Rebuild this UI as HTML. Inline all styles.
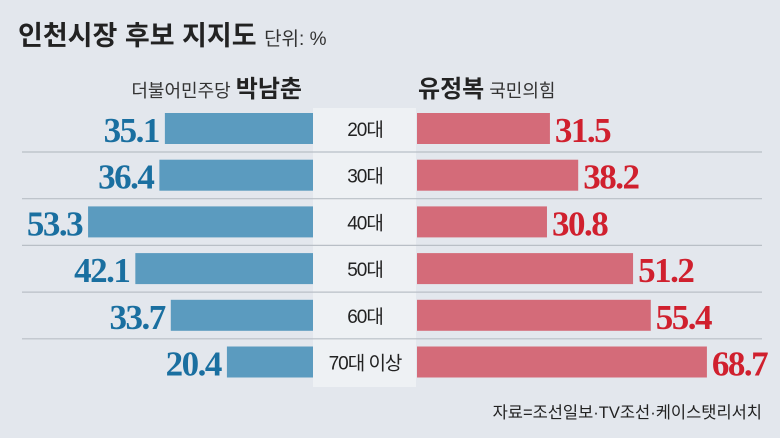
<!DOCTYPE html>
<html><head><meta charset="utf-8"><style>
body{margin:0;background:#e3e7ed;}
svg{display:block;font-family:"Liberation Sans","Noto Sans CJK KR",sans-serif;}
</style></head><body>
<svg id="c" width="780" height="438">
<rect x="0" y="0" width="780" height="438" fill="#e3e7ed"/>
<text x="18" y="45" font-size="27" font-weight="bold" fill="#222">인천시장 후보 지지도 <tspan font-size="19" font-weight="normal" fill="#333">단위: %</tspan></text>
<rect x="313" y="108" width="103" height="279" fill="#eef1f4"/>
<text x="302" y="97" text-anchor="end" font-size="18" fill="#333">더불어민주당 <tspan font-size="24" font-weight="bold" fill="#222">박남춘</tspan></text>
<text x="418" y="97" font-size="18" fill="#333"><tspan font-size="24" font-weight="bold" fill="#222">유정복</tspan> 국민의힘</text>
<g id="rows"></g>
<text x="762" y="418" text-anchor="end" font-size="16.5" fill="#222">자료=조선일보·TV조선·케이스탯리서치</text>
</svg>
<script>
const categories=["20대","30대","40대","50대","60대","70대 이상"];
const parkValues=[35.1,36.4,53.3,42.1,33.7,20.4];
const yooValues=[31.5,38.2,30.8,51.2,55.4,68.7];
const NS="http://www.w3.org/2000/svg";
const g=document.getElementById('rows');
const scale=v=>v*4.22;
const rowY=i=>113+i*46.7;
function mk(t,a){const e=document.createElementNS(NS,t);for(const k in a)e.setAttribute(k,a[k]);g.appendChild(e);return e;}
categories.forEach((c,i)=>{
  const y=rowY(i);
  if(i<categories.length-1){
    const l=mk('line',{x1:22,x2:762,y1:y+39,y2:y+39,stroke:'#b9bfc6','stroke-width':1.2});
    
    
  }
  const wl=scale(parkValues[i]);
  const bl=mk('rect',{x:313-wl,y:y,width:wl,height:31,fill:'#5b9bbf'});
  
  
  const wr=scale(yooValues[i]);
  const br=mk('rect',{x:417,y:y,width:wr,height:31,fill:'#d46b79'});
  
  
  const tl=mk('text',{x:313-wl-6,y:y+29,'text-anchor':'end','font-size':35,'font-weight':'bold','font-family':'Liberation Serif,serif',fill:'#1a6fa0','letter-spacing':'-1.5'});
  tl.textContent=parkValues[i].toFixed(1);
  
  
  const tr=mk('text',{x:417+wr+5,y:y+29,'font-size':35,'font-weight':'bold','font-family':'Liberation Serif,serif',fill:'#d0202e','letter-spacing':'-1.5'});
  tr.textContent=yooValues[i].toFixed(1);
  
  
  const tc=mk('text',{x:365,y:y+23,'text-anchor':'middle','font-size':19,fill:'#222','letter-spacing':'-1'});
  tc.textContent=c;
  
  
});
</script>
</body></html>
